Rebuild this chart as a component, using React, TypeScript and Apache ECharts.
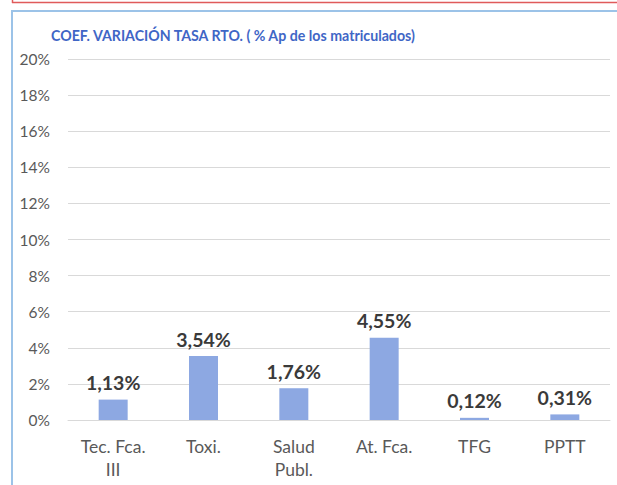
import React, { useEffect, useRef } from "react";
import * as echarts from "echarts";

const categories = ["Tec. Fca.\nIII", "Toxi.", "Salud\nPubl.", "At. Fca.", "TFG", "PPTT"];
const values = [1.13, 3.54, 1.76, 4.55, 0.12, 0.31];
const titleText = "COEF. VARIACIÓN TASA RTO. ( % Ap de los matriculados)";

export default function App() {
  const ref = useRef<HTMLDivElement>(null);
  useEffect(() => {
    if (!ref.current) return;
    const chart = echarts.init(ref.current, null, { renderer: "svg" });
    chart.setOption({
      animation: false,
      backgroundColor: "#ffffff",
      title: {
        text: titleText,
        left: 46,
        top: 23,
        textStyle: { fontFamily: "Lato", fontWeight: "bold", fontSize: 14.2, color: "#3F66C6" },
      },
      graphic: [
        { type: "line", shape: { x1: 12, y1: 2.5, x2: 617, y2: 2.5 }, style: { stroke: "#E05A5A", lineWidth: 1.5 } },
        { type: "line", shape: { x1: 12.5, y1: 0, x2: 12.5, y2: 3 }, style: { stroke: "#E05A5A", lineWidth: 1.5 } },
        { type: "line", shape: { x1: 12, y1: 11, x2: 617, y2: 11 }, style: { stroke: "#9CC3E8", lineWidth: 2 } },
        { type: "line", shape: { x1: 12, y1: 10, x2: 12, y2: 485 }, style: { stroke: "#9CC3E8", lineWidth: 2 } },
      ],
      grid: { left: 68, right: 7, top: 59, bottom: 65 },
      xAxis: {
        type: "category",
        data: categories,
        axisLine: { show: true, lineStyle: { color: "#d9d9d9" } },
        axisTick: { show: false },
        axisLabel: {
          fontFamily: "Lato",
          fontSize: 17.5,
          color: "#595959",
          margin: 15,
          lineHeight: 23,
        },
      },
      yAxis: {
        type: "value",
        min: 0,
        max: 20,
        interval: 2,
        axisLine: { show: false },
        axisTick: { show: false },
        splitLine: { lineStyle: { color: "#d9d9d9" } },
        axisLabel: {
          fontFamily: "Lato",
          fontSize: 15.5,
          color: "#595959",
          margin: 18,
          formatter: (v: number) => `${v}%`,
        },
      },
      series: [
        {
          type: "bar",
          data: values,
          barWidth: 29,
          itemStyle: { color: "#8DA8E2" },
          label: {
            show: true,
            position: "top",
            distance: 7,
            fontFamily: "Lato",
            fontWeight: "bold",
            fontSize: 19.5,
            color: "#3A3A3A",
            formatter: (p: any) => `${p.value.toFixed(2).replace(".", ",")}%`,
          },
        },
      ],
    });
    return () => chart.dispose();
  }, []);
  return (
    <div
      ref={ref}
      style={{ position: "fixed", left: 0, top: 0, width: 617, height: 485 }}
    />
  );
}
